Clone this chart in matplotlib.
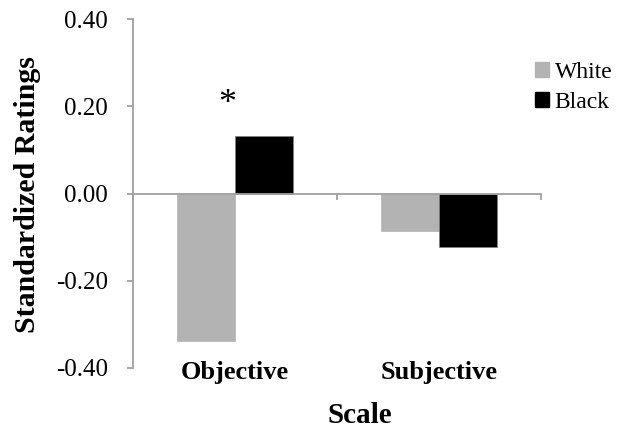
import matplotlib
matplotlib.use("Agg")
import matplotlib.pyplot as plt
import matplotlib.transforms as mtransforms
from matplotlib.patches import Patch
import numpy as np

plt.rcParams['font.family'] = ['Liberation Serif', 'DejaVu Serif']

scales = ["Objective", "Subjective"]
white = [-0.338, -0.085]
black = [0.131, -0.123]
yticks = [-0.40, -0.20, 0.00, 0.20, 0.40]

grey = "#b3b3b3"
axis_col = "#a0a0a0"

fig = plt.figure(figsize=(6.21, 4.29), dpi=100)
ax = fig.add_axes([133 / 621, 61 / 429, 408 / 621, 349 / 429])

x = np.arange(len(scales))
w = 0.284
ax.bar(x - w / 2, white, w, color=grey, edgecolor=grey, linewidth=0.5)
ax.bar(x + w / 2, black, w, color="black", edgecolor="#808080", linewidth=0.5)

ax.set_xlim(-0.5, len(scales) - 0.5)
ax.set_ylim(-0.40, 0.40)
ax.set_yticks(yticks)
ax.set_yticklabels(["%.2f" % v for v in yticks], fontsize=18)

# x axis sits at zero, with ticks between categories
ax.spines['bottom'].set_position(('data', 0))
ax.spines['top'].set_visible(False)
ax.spines['right'].set_visible(False)
for s in ['left', 'bottom']:
    ax.spines[s].set_color(axis_col)
    ax.spines[s].set_linewidth(1.3)
ax.set_xticks(np.arange(len(scales) + 1) - 0.5)
ax.set_xticklabels([])
ax.tick_params(axis='both', color=axis_col, width=1.3, length=4.5, direction='out')
ax.tick_params(axis='y', pad=13.5)

trans = mtransforms.blended_transform_factory(ax.transData, ax.transAxes)
for i, name in enumerate(scales):
    ax.text(x[i], -0.012, name, transform=trans, ha='center', va='center',
            fontsize=19, fontweight='bold')

ax.text(0.556, -0.135, "Scale", transform=ax.transAxes, ha='center', va='center',
        fontsize=21, fontweight='bold')
fig.text(28 / 621, 1 - 195 / 429, "Standardized Ratings", rotation=90,
         ha='center', va='center', fontsize=21.5, fontweight='bold')

# significance marker
ax.text(x[0] - 0.04, 0.203, "*", ha='center', va='center', fontsize=26)

handles = [Patch(facecolor=grey, edgecolor=grey), Patch(facecolor='black', edgecolor='black')]
fig.legend(handles, ["White", "Black"], loc='upper left', bbox_to_anchor=(530 / 621, 1 - 57 / 429),
           frameon=False, fontsize=17, handlelength=0.6, handleheight=0.6,
           handletextpad=0.25, labelspacing=0.4, borderaxespad=0, borderpad=0.2)

fig.savefig("out.png", dpi=100)
